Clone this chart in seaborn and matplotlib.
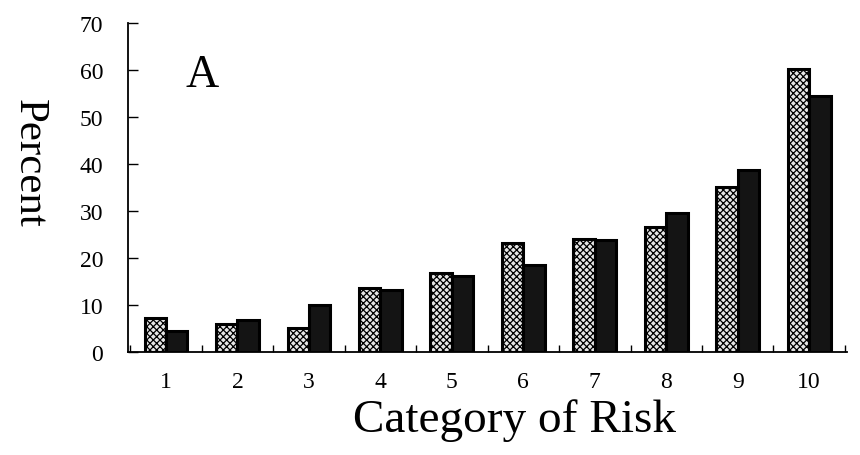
import pandas as pd
import matplotlib
matplotlib.use('Agg')
import matplotlib.pyplot as plt
import seaborn as sns
from matplotlib.ticker import MultipleLocator, FixedLocator

categories = ['1', '2', '3', '4', '5', '6', '7', '8', '9', '10']
series_a = [7.2, 5.9, 5.1, 13.6, 16.8, 23.1, 24.0, 26.6, 35.2, 60.3]
series_b = [4.5, 6.8, 10.0, 13.2, 16.1, 18.5, 23.8, 29.5, 38.8, 54.4]
series_names = ['light', 'dark']

df = pd.DataFrame({
    'cat': categories * 2,
    'pct': series_a + series_b,
    'grp': [series_names[0]] * len(categories) + [series_names[1]] * len(categories),
})

sns.set_style('white')
plt.rcParams['font.family'] = ['Liberation Serif', 'DejaVu Serif']
plt.rcParams['hatch.linewidth'] = 0.9
for k in ['text.color', 'axes.labelcolor', 'xtick.color', 'ytick.color']:
    plt.rcParams[k] = 'black'

fig = plt.figure(figsize=(8.6, 4.56), dpi=100)
ax = fig.add_axes([0.149, 0.226, 0.836, 0.721])

sns.barplot(data=df, x='cat', y='pct', hue='grp', order=categories,
            hue_order=series_names, palette=['#e6e6e6', '#141414'],
            width=0.6, edgecolor='black', linewidth=2.2, legend=False, ax=ax)

for bar in ax.containers[0]:
    bar.set_hatch('xxxxx')

ax.set_xlim(-0.53, 9.53)
ax.set_ylim(0, 70)
ax.yaxis.set_major_locator(MultipleLocator(10))

# category labels at the group centres, tick marks between groups
ax.tick_params(axis='x', which='major', length=0, pad=14, labelsize=17)
ax.xaxis.set_minor_locator(FixedLocator([i + 0.5 for i in range(-1, 10)]))
ax.tick_params(axis='x', which='minor', direction='in', length=5, width=1, bottom=True)
ax.tick_params(axis='y', direction='in', length=7, width=1, left=True, pad=18, labelsize=17)

for s in ['top', 'right']:
    ax.spines[s].set_visible(False)
for s in ['left', 'bottom']:
    ax.spines[s].set_linewidth(1.3)
    ax.spines[s].set_color('black')

ax.set_xlabel('Category of Risk', fontsize=34)
ax.xaxis.set_label_coords(0.538, -0.14)
ax.set_ylabel('Percent', fontsize=31, rotation=-90, va='center', ha='center')
ax.yaxis.set_label_coords(-0.138, 0.578)

ax.text(0.5, 59, 'A', fontsize=33, ha='center', va='center')

fig.savefig('out.png', dpi=100)
